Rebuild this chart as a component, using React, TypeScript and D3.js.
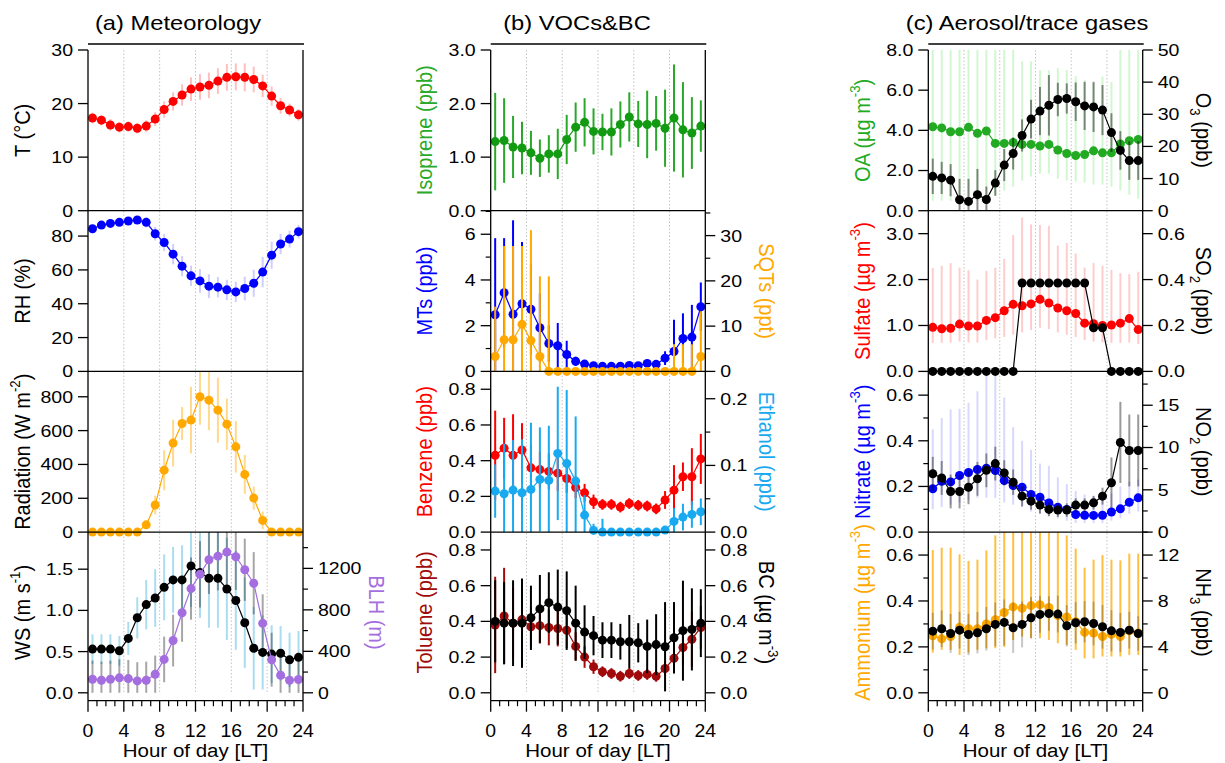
import React from "react";
import * as d3 from "d3";

// Hour-of-day bin centres (local time)
const HOURS = [0.5, 1.5, 2.5, 3.5, 4.5, 5.5, 6.5, 7.5, 8.5, 9.5, 10.5, 11.5, 12.5, 13.5, 14.5, 15.5, 16.5, 17.5, 18.5, 19.5, 20.5, 21.5, 22.5, 23.5];
const X_MAJOR = [0, 4, 8, 12, 16, 20, 24];
const X_MINOR = [1, 2, 3, 5, 6, 7, 9, 10, 11, 13, 14, 15, 17, 18, 19, 21, 22, 23];
const X_GRID = [4, 8, 12, 16, 20];

// (a) Meteorology
const T_MEAN = [17.3, 16.9, 16.0, 15.6, 15.7, 15.4, 15.8, 17.1, 18.9, 20.4, 21.6, 22.7, 23.1, 23.4, 24.2, 24.9, 25.0, 24.9, 24.5, 23.3, 21.4, 19.6, 18.8, 17.9];
const T_SD = [1.0, 1.0, 1.1, 1.0, 1.0, 1.0, 1.1, 1.3, 1.5, 1.7, 2.0, 2.2, 2.4, 2.4, 2.4, 2.5, 2.5, 2.6, 2.4, 2.1, 1.8, 1.5, 1.2, 1.1];
const RH_MEAN = [84.3, 86.5, 87.5, 88.1, 88.9, 89.5, 88.1, 81.4, 76.2, 69.3, 62.2, 56.5, 53.5, 50.4, 49.8, 48.2, 47.0, 49.0, 52.1, 58.7, 68.7, 75.3, 78.2, 82.6];
const RH_SD = [2, 2, 2, 2, 2, 2, 3, 4, 5, 6, 6, 6, 7, 7, 6, 6, 6, 7, 8, 9, 8, 6, 5, 4];
const RAD_MEAN = [0, 0, 0, 0, 0, 0, 43, 160, 366, 526, 642, 662, 800, 780, 721, 638, 504, 341, 201, 69, 0, 0, 0, 0];
const RAD_SD = [0, 0, 0, 0, 0, 0, 12, 55, 118, 138, 98, 197, 165, 177, 192, 152, 152, 115, 69, 52, 0, 0, 0, 0];
const WS_MEAN = [0.53, 0.53, 0.53, 0.51, 0.66, 0.91, 1.07, 1.15, 1.28, 1.37, 1.37, 1.54, 1.46, 1.39, 1.39, 1.26, 1.12, 0.85, 0.54, 0.49, 0.47, 0.48, 0.40, 0.43];
const WS_SD = [0.18, 0.18, 0.18, 0.18, 0.2, 0.25, 0.3, 0.35, 0.4, 0.4, 0.42, 0.5, 0.55, 0.6, 0.6, 0.62, 0.6, 0.55, 0.5, 0.45, 0.35, 0.33, 0.33, 0.32];
const BLH_MEAN = [131, 121, 131, 144, 137, 115, 121, 179, 322, 504, 772, 1005, 1143, 1283, 1318, 1357, 1312, 1187, 1057, 670, 319, 169, 121, 128];
const BLH_SD = [180, 180, 180, 180, 180, 180, 180, 180, 220, 250, 280, 300, 320, 330, 330, 330, 320, 300, 300, 280, 260, 200, 180, 180];

// (b) VOCs & BC
const ISO_MEAN = [1.29, 1.31, 1.19, 1.17, 1.08, 0.98, 1.06, 1.06, 1.33, 1.56, 1.65, 1.48, 1.47, 1.47, 1.61, 1.75, 1.62, 1.61, 1.63, 1.54, 1.73, 1.51, 1.45, 1.58];
const ISO_SD = [0.91, 0.79, 0.58, 0.49, 0.41, 0.35, 0.35, 0.47, 0.46, 0.46, 0.45, 0.43, 0.34, 0.44, 0.43, 0.46, 0.43, 0.63, 0.51, 0.72, 1.0, 0.89, 0.67, 0.48];
const MT_MEAN = [2.48, 3.44, 2.50, 2.96, 2.72, 1.91, 1.22, 1.12, 0.74, 0.44, 0.32, 0.25, 0.22, 0.22, 0.23, 0.26, 0.25, 0.35, 0.31, 0.58, 0.87, 1.44, 1.50, 2.83];
const MT_SD = [3.35, 2.39, 4.11, 2.7, 2.0, 1.5, 0.8, 1.0, 0.6, 0.2, 0.12, 0.1, 0.1, 0.1, 0.1, 0.1, 0.1, 0.15, 0.12, 0.3, 1.39, 1.1, 1.41, 1.06];
const SQT_MEAN = [3.3, 7.0, 7.0, 10.4, 6.8, 3.3, 0, 0, 0, 0, 0, 0, 0, 0, 0, 0, 0, 0, 0, 0, 0, 0, 0, 3.3];
const SQT_SD = [11, 20.7, 20.7, 17.3, 24.4, 17.7, 21, 0, 0, 0, 0, 0, 0, 0, 0, 0, 0, 0, 0, 0, 6, 6, 6, 10];
const BENZ_MEAN = [0.43, 0.47, 0.43, 0.46, 0.36, 0.35, 0.34, 0.33, 0.30, 0.25, 0.22, 0.17, 0.155, 0.155, 0.14, 0.16, 0.15, 0.146, 0.13, 0.18, 0.235, 0.31, 0.31, 0.41];
const BENZ_SD = [0.25, 0.17, 0.23, 0.15, 0.13, 0.1, 0.1, 0.1, 0.08, 0.06, 0.05, 0.04, 0.03, 0.03, 0.03, 0.03, 0.03, 0.03, 0.03, 0.05, 0.14, 0.08, 0.16, 0.14];
const ETH_MEAN = [0.0615, 0.0575, 0.063, 0.059, 0.064, 0.079, 0.0775, 0.118, 0.103, 0.0765, 0.0255, 0.0025, 0, 0, 0, 0, 0, 0, 0, 0.003, 0.016, 0.0225, 0.0265, 0.0305];
const ETH_SD = [0.04, 0.075, 0.075, 0.08, 0.1, 0.078, 0.082, 0.1, 0.11, 0.097, 0.03, 0.01, 0.02, 0.005, 0.005, 0.005, 0.005, 0.005, 0.005, 0.005, 0.02, 0.02, 0.02, 0.02];
const TOL_MEAN = [0.38, 0.43, 0.39, 0.41, 0.37, 0.376, 0.366, 0.36, 0.35, 0.26, 0.20, 0.146, 0.118, 0.108, 0.093, 0.108, 0.097, 0.103, 0.092, 0.136, 0.193, 0.254, 0.30, 0.366];
const TOL_SD = [0.27, 0.27, 0.2, 0.15, 0.11, 0.1, 0.1, 0.1, 0.1, 0.08, 0.06, 0.04, 0.03, 0.03, 0.03, 0.03, 0.03, 0.03, 0.03, 0.04, 0.08, 0.1, 0.155, 0.12];
const BC_MEAN = [0.40, 0.39, 0.39, 0.39, 0.42, 0.47, 0.505, 0.48, 0.46, 0.39, 0.34, 0.32, 0.295, 0.295, 0.286, 0.286, 0.28, 0.26, 0.27, 0.258, 0.308, 0.348, 0.355, 0.39];
const BC_SD = [0.23, 0.23, 0.24, 0.25, 0.18, 0.19, 0.17, 0.21, 0.22, 0.21, 0.15, 0.11, 0.1, 0.1, 0.1, 0.15, 0.11, 0.15, 0.17, 0.25, 0.2, 0.28, 0.23, 0.19];

// (c) Aerosol / trace gases
const OA_MEAN = [4.18, 4.12, 3.93, 3.93, 4.15, 3.85, 3.97, 3.35, 3.35, 3.4, 3.3, 3.3, 3.22, 3.3, 3.02, 2.85, 2.75, 2.8, 2.98, 2.88, 2.88, 3.32, 3.48, 3.55];
const OA_LO = [0.5, 0.5, 0.5, 0.5, 0.5, 0.5, 0.6, 0.8, 1.0, 1.2, 1.5, 1.7, 1.85, 1.85, 1.6, 1.5, 1.45, 1.4, 1.3, 1.3, 1.2, 1.0, 0.8, 0.6];
const OA_HI = [8.6, 8.6, 8.6, 8.6, 8.6, 8.6, 8.6, 8.6, 8.6, 8.6, 7.43, 7.43, 7.0, 7.0, 7.1, 7.0, 6.7, 6.5, 6.35, 6.68, 6.4, 8.6, 8.6, 8.6];
const O3_MEAN = [10.7, 10.2, 9.5, 3.4, 2.9, 5.0, 3.5, 8.6, 14.2, 17.8, 23.4, 28.5, 31.0, 32.8, 34.6, 34.9, 33.9, 32.6, 32.3, 31.3, 24.3, 18.75, 15.6, 15.6];
const O3_SD = [5.5, 5, 5, 6.5, 7, 8, 4, 4, 5, 5, 5, 6, 7.5, 9.4, 5.2, 4.7, 6, 7.5, 7.8, 7.8, 6, 6, 6, 6];
const SUL_MEAN = [0.96, 0.93, 0.94, 1.03, 0.99, 0.99, 1.11, 1.17, 1.32, 1.46, 1.43, 1.47, 1.57, 1.49, 1.38, 1.32, 1.26, 1.05, 1.04, 1.0, 1.01, 1.05, 1.15, 0.91];
const SUL_LO = [0.62, 0.62, 0.63, 0.65, 0.63, 0.63, 0.68, 0.72, 0.75, 0.8, 0.85, 0.9, 0.95, 0.92, 0.85, 0.8, 0.75, 0.68, 0.65, 0.63, 0.62, 0.62, 0.63, 0.6];
const SUL_HI = [2.25, 2.30, 2.36, 2.26, 2.20, 2.0, 2.19, 2.26, 2.45, 2.97, 3.35, 3.2, 3.19, 3.17, 2.74, 2.80, 2.57, 2.26, 2.36, 2.30, 2.21, 2.14, 2.12, 2.17];
const SO2_MEAN = [0, 0, 0, 0, 0, 0, 0, 0, 0, 0, 0.385, 0.385, 0.385, 0.385, 0.385, 0.385, 0.385, 0.385, 0.19, 0.19, 0, 0, 0, 0];
const NIT_MEAN = [0.19, 0.223, 0.22, 0.248, 0.261, 0.274, 0.28, 0.27, 0.226, 0.204, 0.197, 0.165, 0.153, 0.128, 0.109, 0.099, 0.077, 0.074, 0.073, 0.074, 0.088, 0.102, 0.131, 0.15];
const NIT_LO = [0.1, 0.11, 0.12, 0.13, 0.14, 0.15, 0.15, 0.15, 0.13, 0.12, 0.11, 0.09, 0.08, 0.07, 0.06, 0.05, 0.04, 0.04, 0.04, 0.04, 0.05, 0.06, 0.08, 0.09];
const NIT_HI = [0.45, 0.5, 0.537, 0.54, 0.566, 0.617, 0.686, 0.686, 0.59, 0.46, 0.40, 0.36, 0.30, 0.29, 0.24, 0.21, 0.18, 0.165, 0.16, 0.16, 0.17, 0.2, 0.22, 0.23];
const NO2_MEAN = [6.9, 6.4, 4.8, 4.8, 5.3, 6.3, 7.3, 8.1, 7.0, 5.9, 4.25, 3.66, 3.19, 2.68, 2.6, 2.6, 3.19, 3.19, 3.46, 4.25, 5.83, 10.6, 9.65, 9.65];
const NO2_SD = [2, 2, 2, 2, 2, 2, 2, 2, 1.5, 1.5, 1.2, 1, 1, 0.8, 0.8, 0.8, 0.8, 0.8, 0.8, 1.0, 3.0, 4.8, 4.25, 4.25];
const AMM_MEAN = [0.248, 0.235, 0.245, 0.285, 0.279, 0.279, 0.30, 0.318, 0.35, 0.374, 0.368, 0.38, 0.384, 0.372, 0.336, 0.33, 0.31, 0.263, 0.26, 0.245, 0.255, 0.245, 0.27, 0.26];
const AMM_LO = [0.175, 0.187, 0.187, 0.165, 0.175, 0.187, 0.194, 0.194, 0.2, 0.23, 0.245, 0.238, 0.238, 0.23, 0.216, 0.209, 0.187, 0.15, 0.15, 0.158, 0.158, 0.158, 0.165, 0.165];
const AMM_HI = [0.622, 0.632, 0.632, 0.603, 0.574, 0.58, 0.62, 0.686, 0.75, 0.75, 0.75, 0.75, 0.75, 0.75, 0.75, 0.686, 0.628, 0.545, 0.58, 0.6, 0.58, 0.577, 0.606, 0.606];
const NH3_MEAN = [5.37, 5.58, 5.17, 5.46, 5.08, 5.23, 5.58, 5.96, 6.13, 5.67, 5.96, 6.54, 6.83, 6.91, 6.86, 5.84, 6.1, 6.19, 6.04, 5.75, 5.4, 5.26, 5.46, 5.17];
const NH3_SD = [1.6, 1.6, 1.7, 1.6, 1.8, 1.8, 1.9, 1.9, 2.0, 2.2, 2.0, 1.8, 1.6, 1.5, 1.6, 1.8, 1.8, 1.8, 1.9, 1.9, 1.8, 1.7, 1.6, 1.5];

const COLUMN_TITLES = ["(a) Meteorology", "(b) VOCs&BC", "(c) Aerosol/trace gases"];
const X_TITLE = "Hour of day [LT]";

// ---------- styling / layout ----------
const FONT = "'Liberation Sans', Arial, Helvetica, sans-serif";
const SX = 1.15; // horizontal glyph stretch
const COLS = [
  { left: 88, right: 303, titleX: 178 },
  { left: 490.7, right: 705.3, titleX: 577 },
  { left: 928.3, right: 1142.7, titleX: 1027 },
];
const FRAME_Y = 44;
const PANEL_TOP = 50;
const PANEL_H = 160.7;
const AXIS_Y = 700.7;

const RED = "#ff0000";
const BLUE = "#0000ff";
const ORANGE = "#ffa800";
const PURPLE = "#a46ee0";
const GREEN = "#129a12";
const OA_GREEN = "#22aa22";
const SKY = "#19a9f0";
const DARKRED = "#a00a0a";

type Part = { t: string; sup?: boolean; sub?: boolean };
type Side = {
  mean: number[];
  err?: number[];
  lo?: number[];
  hi?: number[];
  color: string;
  barColor: string;
  domain: [number, number];
  ticks: number[];
  minor?: number[];
  digits: number;
  title: Part[];
  titleColor: string;
};
type Panel = { left: Side; right?: Side };

const ugm3 = (name: string): Part[] => [{ t: name + " (µg m" }, { t: "-3", sup: true }, { t: ")" }];

const PANELS: Panel[][] = [
  [
    { left: { mean: T_MEAN, err: T_SD, color: RED, barColor: "rgba(255,0,0,0.25)", domain: [0, 30], ticks: [0, 10, 20, 30], digits: 0, title: [{ t: "T (°C)" }], titleColor: "#000" } },
    { left: { mean: RH_MEAN, err: RH_SD, color: BLUE, barColor: "rgba(60,60,255,0.25)", domain: [0, 95], ticks: [0, 20, 40, 60, 80], digits: 0, title: [{ t: "RH (%)" }], titleColor: "#000" } },
    { left: { mean: RAD_MEAN, err: RAD_SD, color: ORANGE, barColor: "rgba(255,170,0,0.45)", domain: [0, 950], ticks: [0, 200, 400, 600, 800], digits: 0, title: [{ t: "Radiation (W m" }, { t: "-2", sup: true }, { t: ")" }], titleColor: "#000" } },
    {
      left: { mean: WS_MEAN, err: WS_SD, color: "#000", barColor: "rgba(135,206,235,0.7)", domain: [0, 1.95], ticks: [0, 0.5, 1, 1.5], digits: 1, title: [{ t: "WS (m s" }, { t: "-1", sup: true }, { t: ")" }], titleColor: "#000" },
      right: { mean: BLH_MEAN, err: BLH_SD, color: PURPLE, barColor: "rgba(0,0,0,0.35)", domain: [0, 1550], ticks: [0, 400, 800, 1200], minor: [200, 600, 1000, 1400], digits: 0, title: [{ t: "BLH (m)" }], titleColor: PURPLE },
    },
  ],
  [
    { left: { mean: ISO_MEAN, err: ISO_SD, color: GREEN, barColor: "#2aa82a", domain: [0, 3], ticks: [0, 1, 2, 3], digits: 1, title: [{ t: "Isoprene (ppb)" }], titleColor: "#2aaa2a" } },
    {
      left: { mean: MT_MEAN, err: MT_SD, color: BLUE, barColor: BLUE, domain: [0, 7.03], ticks: [0, 2, 4, 6], minor: [1, 3, 5, 7], digits: 0, title: [{ t: "MTs (ppb)" }], titleColor: BLUE },
      right: { mean: SQT_MEAN, err: SQT_SD, color: ORANGE, barColor: ORANGE, domain: [0, 35.5], ticks: [0, 10, 20, 30], minor: [5, 15, 25, 35], digits: 0, title: [{ t: "SQTs (ppt)" }], titleColor: ORANGE },
    },
    {
      left: { mean: BENZ_MEAN, err: BENZ_SD, color: RED, barColor: RED, domain: [0, 0.9], ticks: [0, 0.2, 0.4, 0.6, 0.8], digits: 1, title: [{ t: "Benzene (ppb)" }], titleColor: RED },
      right: { mean: ETH_MEAN, err: ETH_SD, color: SKY, barColor: SKY, domain: [0, 0.241], ticks: [0, 0.1, 0.2], minor: [0.05, 0.15], digits: 1, title: [{ t: "Ethanol (ppb)" }], titleColor: SKY },
    },
    {
      left: { mean: TOL_MEAN, err: TOL_SD, color: DARKRED, barColor: DARKRED, domain: [0, 0.9], ticks: [0, 0.2, 0.4, 0.6, 0.8], digits: 1, title: [{ t: "Toluene (ppb)" }], titleColor: DARKRED },
      right: { mean: BC_MEAN, err: BC_SD, color: "#000", barColor: "#000", domain: [0, 0.9], ticks: [0, 0.2, 0.4, 0.6, 0.8], digits: 1, title: ugm3("BC"), titleColor: "#000" },
    },
  ],
  [
    {
      left: { mean: OA_MEAN, lo: OA_LO, hi: OA_HI, color: OA_GREEN, barColor: "rgba(40,220,40,0.22)", domain: [0, 8], ticks: [0, 2, 4, 6, 8], digits: 1, title: ugm3("OA"), titleColor: OA_GREEN },
      right: { mean: O3_MEAN, err: O3_SD, color: "#000", barColor: "rgba(0,0,0,0.45)", domain: [0, 50], ticks: [0, 10, 20, 30, 40, 50], digits: 0, title: [{ t: "O" }, { t: "3", sub: true }, { t: " (ppb)" }], titleColor: "#000" },
    },
    {
      left: { mean: SUL_MEAN, lo: SUL_LO, hi: SUL_HI, color: RED, barColor: "rgba(255,0,0,0.2)", domain: [0, 3.5], ticks: [0, 1, 2, 3], digits: 1, title: ugm3("Sulfate"), titleColor: RED },
      right: { mean: SO2_MEAN, color: "#000", barColor: "#000", domain: [0, 0.7], ticks: [0, 0.2, 0.4, 0.6], digits: 1, title: [{ t: "SO" }, { t: "2", sub: true }, { t: " (ppb)" }], titleColor: "#000" },
    },
    {
      left: { mean: NIT_MEAN, lo: NIT_LO, hi: NIT_HI, color: BLUE, barColor: "rgba(60,60,255,0.2)", domain: [0, 0.704], ticks: [0, 0.2, 0.4, 0.6], minor: [0.1, 0.3, 0.5], digits: 1, title: ugm3("Nitrate"), titleColor: BLUE },
      right: { mean: NO2_MEAN, err: NO2_SD, color: "#000", barColor: "rgba(0,0,0,0.4)", domain: [0, 19], ticks: [0, 5, 10, 15], minor: [2.5, 7.5, 12.5, 17.5], digits: 0, title: [{ t: "NO" }, { t: "2", sub: true }, { t: " (ppb)" }], titleColor: "#000" },
    },
    {
      left: { mean: AMM_MEAN, lo: AMM_LO, hi: AMM_HI, color: ORANGE, barColor: "rgba(255,170,0,0.75)", domain: [0, 0.7], ticks: [0, 0.2, 0.4, 0.6], minor: [0.1, 0.3, 0.5], digits: 1, title: ugm3("Ammonium"), titleColor: ORANGE },
      right: { mean: NH3_MEAN, err: NH3_SD, color: "#000", barColor: "rgba(0,0,0,0.22)", domain: [0, 14], ticks: [0, 4, 8, 12], minor: [2, 6, 10, 14], digits: 0, title: [{ t: "NH" }, { t: "3", sub: true }, { t: " (ppb)" }], titleColor: "#000" },
    },
  ],
];

function renderParts(parts: Part[], size: number) {
  let off = 0;
  return parts.map((p, i) => {
    const target = p.sup ? -size * 0.45 : p.sub ? size * 0.28 : 0;
    const dy = target - off;
    off = target;
    return (
      <tspan key={i} dy={dy} fontSize={p.sup || p.sub ? size * 0.66 : size}>
        {p.t}
      </tspan>
    );
  });
}

function SText(props: {
  x: number; y: number; size: number; rot?: number; anchor?: string; fill?: string;
  parts: Part[]; center?: boolean; sx?: number;
}) {
  const { x, y, size, rot = 0, anchor = "middle", fill = "#000", parts, center = false, sx = SX } = props;
  return (
    <g transform={`translate(${x},${y}) scale(${sx},1) rotate(${rot})`}>
      <text x={0} y={center ? size * 0.35 : 0} fontSize={size} textAnchor={anchor} fill={fill} fontFamily={FONT}>
        {renderParts(parts, size)}
      </text>
    </g>
  );
}

function SeriesMarks({ s, x, y }: { s: Side; x: d3.ScaleLinear<number, number>; y: d3.ScaleLinear<number, number> }) {
  const [d0, d1] = s.domain;
  const clamp = (v: number) => Math.max(d0, Math.min(d1, v));
  const line = d3
    .line<number>()
    .x((_, i) => x(HOURS[i]))
    .y((v) => y(v));
  return (
    <g>
      {HOURS.map((h, i) => {
        const lo = s.lo ? s.lo[i] : s.mean[i] - (s.err ? s.err[i] : 0);
        const hi = s.hi ? s.hi[i] : s.mean[i] + (s.err ? s.err[i] : 0);
        if (hi - lo <= 0) return null;
        return <line key={"e" + i} x1={x(h)} x2={x(h)} y1={y(clamp(lo))} y2={y(clamp(hi))} stroke={s.barColor} strokeWidth={2} />;
      })}
      <path d={line(s.mean) || ""} fill="none" stroke={s.color} strokeWidth={1.2} />
      {HOURS.map((h, i) => (
        <circle key={"p" + i} cx={x(h)} cy={y(s.mean[i])} r={4.5} fill={s.color} />
      ))}
    </g>
  );
}

function YAxis({ s, y, xPos, side, top, bottom }: { s: Side; y: d3.ScaleLinear<number, number>; xPos: number; side: "left" | "right"; top: number; bottom: number }) {
  const dir = side === "left" ? -1 : 1;
  const fmt = d3.format(`.${s.digits}f`);
  const titleX = side === "left" ? xPos - 66 : xPos + (s.ticks[s.ticks.length - 1] >= 1000 ? 74 : 61);
  return (
    <g>
      {s.ticks.map((t) => (
        <g key={"t" + t}>
          <line x1={xPos} x2={xPos + dir * 10} y1={y(t)} y2={y(t)} stroke="#000" strokeWidth={1.3} />
          <SText x={xPos + dir * 15} y={y(t)} size={17} anchor={side === "left" ? "end" : "start"} center parts={[{ t: fmt(t) }]} />
        </g>
      ))}
      {(s.minor || []).map((t) => (
        <line key={"m" + t} x1={xPos} x2={xPos + dir * 5} y1={y(t)} y2={y(t)} stroke="#000" strokeWidth={1.2} />
      ))}
      <SText
        x={titleX}
        y={(top + bottom) / 2}
        size={20}
        rot={side === "left" ? -90 : 90}
        fill={s.titleColor}
        center
        sx={1.1}
        parts={s.title}
      />
    </g>
  );
}

export default function App() {
  const plotBottom = PANEL_TOP + PANEL_H * 4;
  return (
    <svg width={1225} height={763} style={{ position: "absolute", left: 0, top: 0, background: "#fff" }} fontFamily={FONT}>
      <rect x={0} y={0} width={1225} height={763} fill="#fff" />
      {COLS.map((c, ci) => {
        const x = d3.scaleLinear().domain([0, 24]).range([c.left, c.right]);
        return (
          <g key={ci}>
            {/* dotted hour grid */}
            {X_GRID.map((h) => (
              <line key={"g" + h} x1={x(h)} x2={x(h)} y1={PANEL_TOP} y2={plotBottom} stroke="#c4c4c4" strokeWidth={1} strokeDasharray="1.5,2" />
            ))}
            {PANELS[ci].map((p, pi) => {
              const top = PANEL_TOP + pi * PANEL_H;
              const bottom = top + PANEL_H;
              const yL = d3.scaleLinear().domain(p.left.domain).range([bottom, top]);
              const yR = p.right ? d3.scaleLinear().domain(p.right.domain).range([bottom, top]) : null;
              return (
                <g key={pi}>
                  <SeriesMarks s={p.left} x={x} y={yL} />
                  {p.right && yR && <SeriesMarks s={p.right} x={x} y={yR} />}
                  <YAxis s={p.left} y={yL} xPos={c.left} side="left" top={top} bottom={bottom} />
                  {p.right && yR && <YAxis s={p.right} y={yR} xPos={c.right} side="right" top={top} bottom={bottom} />}
                  {pi > 0 && <line x1={c.left} x2={c.right} y1={top} y2={top} stroke="#000" strokeWidth={1.3} />}
                </g>
              );
            })}
            {/* frame */}
            <line x1={c.left} x2={c.right + 1} y1={FRAME_Y} y2={FRAME_Y} stroke="#000" strokeWidth={1.3} />
            <line x1={c.left} x2={c.left} y1={PANEL_TOP} y2={AXIS_Y} stroke="#000" strokeWidth={1.3} />
            <line x1={c.right} x2={c.right} y1={PANEL_TOP} y2={AXIS_Y} stroke="#000" strokeWidth={1.3} />
            {/* hour axis */}
            <line x1={c.left} x2={c.right} y1={AXIS_Y} y2={AXIS_Y} stroke="#000" strokeWidth={1.3} />
            {X_MAJOR.map((h) => (
              <g key={"xm" + h}>
                <line x1={x(h)} x2={x(h)} y1={AXIS_Y} y2={AXIS_Y + 11} stroke="#000" strokeWidth={1.3} />
                <SText x={x(h)} y={737} size={18} sx={1.08} parts={[{ t: String(h) }]} />
              </g>
            ))}
            {X_MINOR.map((h) => (
              <line key={"xn" + h} x1={x(h)} x2={x(h)} y1={AXIS_Y} y2={AXIS_Y + 5.5} stroke="#000" strokeWidth={1.2} />
            ))}
            <SText x={(c.left + c.right) / 2} y={757} size={19} sx={1.08} parts={[{ t: X_TITLE }]} />
            <SText x={c.titleX} y={30} size={21} sx={1.13} parts={[{ t: COLUMN_TITLES[ci] }]} />
          </g>
        );
      })}
    </svg>
  );
}
